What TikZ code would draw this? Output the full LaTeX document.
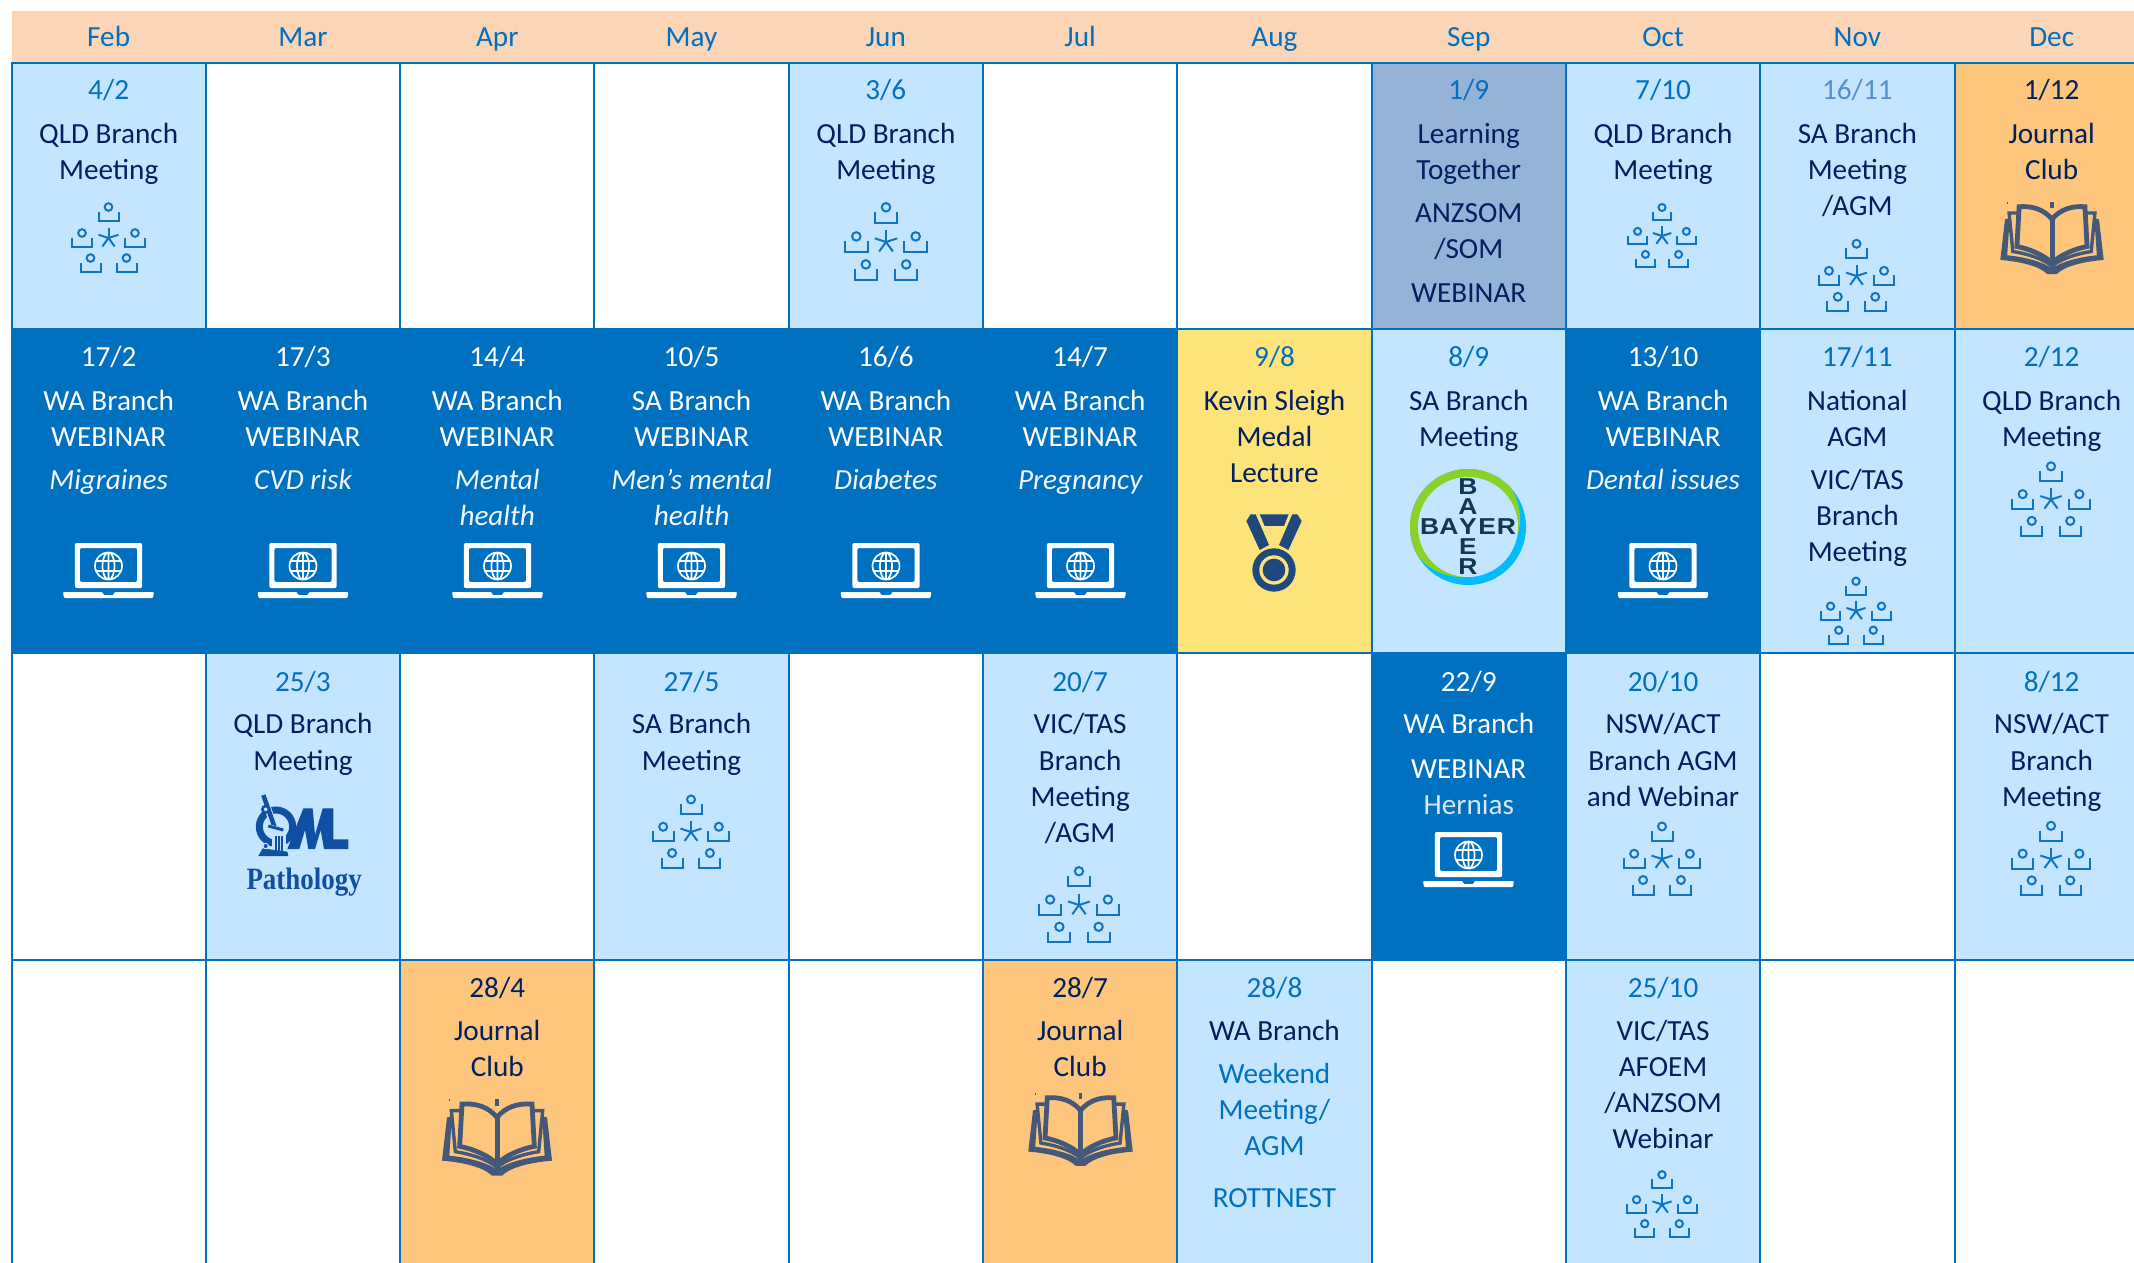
\documentclass[tikz,border=0pt]{standalone}
\usepackage{fontspec}
\setmainfont{Carlito}
\newfontfamily\lsb{Liberation Sans}
\newfontfamily\lsf{Liberation Serif}
\definecolor{hdr}{HTML}{FBD5B5}
\definecolor{blu}{HTML}{0070C0}
\definecolor{lite}{HTML}{C4E5FF}
\definecolor{navy}{HTML}{002060}
\definecolor{orng}{HTML}{FEC67C}
\definecolor{yelw}{HTML}{FEE27A}
\definecolor{slate}{HTML}{95B3D7}
\definecolor{soft}{HTML}{558ED5}
\definecolor{icon}{HTML}{0F74C4}
\definecolor{bookc}{HTML}{44587A}
\definecolor{medalc}{HTML}{1F497D}
\definecolor{paleT}{HTML}{DCE6F2}
\definecolor{italT}{HTML}{F2F5FA}
\definecolor{logoc}{HTML}{0F50A5}
\definecolor{bayerT}{HTML}{10384F}
\definecolor{bgreen}{HTML}{89D329}
\definecolor{bcyan}{HTML}{00BCFF}
\tikzset{
  x=1pt,y=-1pt,
  lab/.style={anchor=base,inner sep=0pt,font=\fontsize{29.2}{36}\selectfont,text=navy},
  date/.style={lab,text=blu},
  wht/.style={lab,text=white},
  ital/.style={lab,text=italT,font=\fontsize{29.2}{36}\selectfont\itshape},
  gridcell/.style={draw=blu,line width=2pt},
}
\newcount\tc
\ExplSyntaxOn
\cs_set_eq:NN \fpeval \fp_eval:n
\ExplSyntaxOff
\newcommand{\cx}[1]{\fpeval{11.5+194.3*(#1+0.5)}}
\newcommand{\ev}[4]{\global\advance\tc by 1 \node[#3] (t\the\tc) at (\cx{#1},#2) {#4};}
\newcommand{\meet}[3]{%
  \begin{scope}[shift={(#1,#2)},scale=#3,draw=icon,line width=2pt]
    \foreach \a/\b in {0/-31,-26.5/-5,26.5/-5,-18/20,18/20}{
      \draw (\a,\b) circle (3.8);
      \draw (\a-10,\b+4.5) -- (\a-10,\b+14) -- (\a+10,\b+14) -- (\a+10,\b+4.5);
    }
    \foreach \t in {270,342,54,126,198}{\draw (0,0) -- (\t:10.5);}
  \end{scope}}
\newcommand{\laptop}[2]{%
  \begin{scope}[shift={(#1,#2)}]
    \fill[white,even odd rule,rounded corners=2] (-33.7,-23) rectangle (33.7,22) (-28.7,-18) rectangle (28.7,16);
    \fill[white,rounded corners=1] (-45.5,26) -- (-6,26) -- (-5,29) -- (5,29) -- (6,26) -- (45.5,26) -- (44.5,32) -- (-44.5,32) -- cycle;
    \draw[white,line width=1.7pt] (0,0) circle (13.5) (0,0) ellipse (6 and 13.5) (0,-13.5) -- (0,13.5) (-12.5,-5) -- (12.5,-5) (-12.5,5) -- (12.5,5);
  \end{scope}}
\newcommand{\book}[3]{%
  \begin{scope}[shift={(#1,#2)},scale=#3/3]
    \fill[bookc,line join=round] (-150,55) -- (-165,185) .. controls (-100,190) and (-40,205) .. (-15,230) -- (15,230) .. controls (40,205) and (100,190) .. (165,185) -- (150,55) -- (135,52) -- (143,170) .. controls (90,175) and (30,190) .. (0,212) .. controls (-30,190) and (-90,175) .. (-143,170) -- (-135,52) -- cycle;
    \draw[bookc,line width=4.8pt] (0,55) .. controls (-25,25) and (-60,12) .. (-105,15) -- (-112,142) .. controls (-70,150) and (-25,170) .. (0,195);
    \draw[bookc,line width=4.8pt] (0,55) .. controls (25,25) and (60,12) .. (105,15) -- (112,142) .. controls (70,150) and (25,170) .. (0,195);
    \draw[bookc,line width=5pt] (0,50) -- (0,215);
    \draw[bookc,line width=3.4pt] (-105,35) -- (-137,35) -- (-125,158) .. controls (-80,165) and (-30,180) .. (0,205) .. controls (30,180) and (80,165) .. (125,158) -- (137,35) -- (105,35);
    \draw[bookc,line width=3.5pt] (0,0) -- (0,20);
    \draw[bookc,line width=1pt] (-143,0) -- (-143,5);
  \end{scope}}
\begin{document}
\begin{tikzpicture}
\useasboundingbox (0,0) rectangle (2134,1262);
\clip (0,0) rectangle (2134,1262);
\fill[white] (0,0) rectangle (2134,1262);
\fill[hdr] (12,11) rectangle (2134,62);
% cells: column index, fill
\foreach \r/\top/\bot/\cols in {
  1/63/329/{0/lite,1/white,2/white,3/white,4/lite,5/white,6/white,7/slate,8/lite,9/lite,10/orng},
  2/329/653/{0/blu,1/blu,2/blu,3/blu,4/blu,5/blu,6/yelw,7/lite,8/blu,9/lite,10/lite},
  3/653/960/{0/white,1/lite,2/white,3/lite,4/white,5/lite,6/white,7/blu,8/lite,9/white,10/lite},
  4/960/1275/{0/white,1/white,2/orng,3/white,4/white,5/orng,6/lite,7/white,8/lite,9/white,10/white}}{
  \foreach \c/\f in \cols {
    \filldraw[gridcell,fill=\f] ({11.5+194.3*\c},\top) rectangle ({11.5+194.3*(\c+1)},\bot);
  }
}
% header
\foreach \c/\m in {0/Feb,1/Mar,2/Apr,3/May,4/Jun,5/Jul,6/Aug,7/Sep,8/Oct,9/Nov,10/Dec}{
  \node[date] (h\c) at ({11.5+194.3*(\c+0.5)},46) {\m};
}
% row 1
\ev{0}{99.5}{date}{4/2}\ev{0}{143}{lab}{QLD Branch}\ev{0}{179}{lab}{Meeting}
\ev{4}{99.5}{date}{3/6}\ev{4}{143}{lab}{QLD Branch}\ev{4}{179}{lab}{Meeting}
\ev{7}{99.5}{date}{1/9}\ev{7}{143}{lab}{Learning}\ev{7}{179}{lab}{Together}\ev{7}{222}{lab}{ANZSOM}\ev{7}{258}{lab}{/SOM}\ev{7}{302}{lab}{WEBINAR}
\ev{8}{99.5}{date}{7/10}\ev{8}{143}{lab}{QLD Branch}\ev{8}{179}{lab}{Meeting}
\ev{9}{99.5}{date,text=soft}{16/11}\ev{9}{143}{lab}{SA Branch}\ev{9}{179}{lab}{Meeting}\ev{9}{215}{lab}{/AGM}
\ev{10}{99.5}{lab}{1/12}\ev{10}{143}{lab}{Journal}\ev{10}{179}{lab}{Club}
% row 2
\foreach \c/\d/\b/\i in {0/17\slash 2/WA/Migraines,1/17\slash 3/WA/CVD risk,2/14\slash 4/WA/Mental,3/10\slash 5/SA/Men’s mental,4/16\slash 6/WA/Diabetes,5/14\slash 7/WA/Pregnancy,8/13\slash 10/WA/Dental issues}{
  \node[wht] (d\c) at ({11.5+194.3*(\c+0.5)},366) {\d};
  \node[wht] (b\c) at ({11.5+194.3*(\c+0.5)},410) {\b{} Branch};
  \node[wht] (w\c) at ({11.5+194.3*(\c+0.5)},446) {WEBINAR};
  \node[ital] (i\c) at ({11.5+194.3*(\c+0.5)},489) {\i};
}
\ev{2}{525}{ital}{health}\ev{3}{525}{ital}{health}
\ev{6}{366}{date}{9/8}\ev{6}{410}{lab}{Kevin Sleigh}\ev{6}{446}{lab}{Medal}\ev{6}{482}{lab}{Lecture}
\ev{7}{366}{date}{8/9}\ev{7}{410}{lab}{SA Branch}\ev{7}{446}{lab}{Meeting}
\ev{9}{366}{date}{17/11}\ev{9}{410}{lab}{National}\ev{9}{446}{lab}{AGM}\ev{9}{489}{lab}{VIC/TAS}\ev{9}{525}{lab}{Branch}\ev{9}{561}{lab}{Meeting}
\ev{10}{366}{date}{2/12}\ev{10}{410}{lab}{QLD Branch}\ev{10}{446}{lab}{Meeting}
% row 3
\ev{1}{691}{date}{25/3}\ev{1}{733.5}{lab}{QLD Branch}\ev{1}{770}{lab}{Meeting}
\ev{3}{691}{date}{27/5}\ev{3}{733.5}{lab}{SA Branch}\ev{3}{770}{lab}{Meeting}
\ev{5}{691}{date}{20/7}\ev{5}{733.5}{lab}{VIC/TAS}\ev{5}{770}{lab}{Branch}\ev{5}{806}{lab}{Meeting}\ev{5}{842}{lab}{/AGM}
\ev{7}{691}{wht}{22/9}\ev{7}{733.5}{wht}{WA Branch}\ev{7}{778}{wht}{WEBINAR}\ev{7}{814}{lab,text=paleT}{Hernias}
\ev{8}{691}{date}{20/10}\ev{8}{733.5}{lab}{NSW/ACT}\ev{8}{770}{lab}{Branch AGM}\ev{8}{806}{lab}{and Webinar}
\ev{10}{691}{date}{8/12}\ev{10}{733.5}{lab}{NSW/ACT}\ev{10}{770}{lab}{Branch}\ev{10}{806}{lab}{Meeting}
% row 4
\ev{2}{997}{lab}{28/4}\ev{2}{1040}{lab}{Journal}\ev{2}{1076}{lab}{Club}
\ev{5}{997}{lab}{28/7}\ev{5}{1040}{lab}{Journal}\ev{5}{1076}{lab}{Club}
\ev{6}{997}{date}{28/8}\ev{6}{1040}{lab}{WA Branch}\ev{6}{1083}{date}{Weekend}\ev{6}{1119}{date}{Meeting/}\ev{6}{1155}{date}{AGM}\ev{6}{1207}{date}{ROTTNEST}
\ev{8}{997}{date}{25/10}\ev{8}{1040}{lab}{VIC/TAS}\ev{8}{1076}{lab}{AFOEM}\ev{8}{1112}{lab}{/ANZSOM}\ev{8}{1148}{lab}{Webinar}
% meeting icons
\meet{108.5}{238}{1}\meet{886}{242}{1.12}\meet{1662}{236}{.92}\meet{1856.5}{276}{1.04}
\meet{2051}{499.5}{1.07}\meet{1856}{611}{.96}\meet{691}{832}{1.05}\meet{1079}{905}{1.09}
\meet{1662}{859}{1.05}\meet{2051}{859}{1.07}\meet{1662}{1204.5}{.96}
% laptops
\foreach \x in {108.5,303,497.5,691.5,886,1080.5,1663}{\laptop{\x}{566}}
\laptop{1468.5}{855}
% books
\book{2052}{202}{.94}\book{497}{1099}{1}\book{1080.5}{1093}{.95}
% medal
\begin{scope}[shift={(1274,514.3)},scale=1/3]
  \fill[medalc] (-70,0) -- (-83,20) -- (-43,107) -- (-15,92) -- (-55,0) -- cycle;
  \fill[medalc] (70,0) -- (83,20) -- (43,107) -- (15,92) -- (55,0) -- cycle;
  \fill[medalc] (-43,0) -- (44,0) -- (30,35) -- (-28,35) -- cycle;
  \fill[medalc] (0,167) circle (65);
  \fill[yelw] (0,167) circle (44);
  \fill[medalc] (0,167) circle (34);
\end{scope}
% Bayer
\begin{scope}[shift={(1468,527)}]
  \begin{scope}
    \clip (0,0) circle (58);
    \fill[bcyan] (-60,-60) rectangle (60,60);
    \fill[bgreen] (-6,-8) circle (58);
    \fill[lite] (0,0) circle (50);
  \end{scope}
  \foreach \k/\l in {-2/B,-1/A,0/Y,1/E,2/R}{
    \node[inner sep=0pt,text=bayerT,font=\lsb\bfseries\fontsize{23}{23}\selectfont] (bh\k) at (\k*19.2,0) {\scalebox{1.15}[1]{\l}};
  }
  \foreach \k/\l in {-2/B,-1/A,1/E,2/R}{
    \node[inner sep=0pt,text=bayerT,font=\lsb\bfseries\fontsize{23}{23}\selectfont] (bv\k) at (0,\k*20) {\scalebox{1.15}[1]{\l}};
  }
\end{scope}
% OML Pathology logo
\node[anchor=base,inner sep=0pt,text=logoc,font=\lsf\bfseries\fontsize{31}{31}\selectfont] (path) at (304.2,889) {\scalebox{.87}[1]{Pathology}};
\begin{scope}[shift={(200,650)},scale=1/3]
  \draw[logoc,line width=7pt] (228,530) circle (50);
  \fill[logoc] (262,597) -- (310,475) -- (338,475) -- (345,555) -- (368,475) -- (400,475) -- (400,568) -- (445,568) -- (445,597) -- (372,597) -- (362,540) -- (345,597) -- (325,597) -- (315,540) -- (298,597) -- cycle;
  \draw[lite,line width=7pt] (190,440) -- (225,535);
  \draw[logoc,line width=4.5pt] (190,435) -- (225,535);
  \filldraw[draw=logoc,fill=lite,line width=2.5pt] (197,478) circle (10);
  \draw[lite,line width=6pt] (200,530) -- (255,545);
  \draw[logoc,line width=3pt] (205,528) -- (250,540);
  \fill[lite] (215,555) rectangle (258,610);
  \fill[logoc] (225,558) rectangle (250,605);
  \draw[lite,line width=1.2pt] (233,558) -- (233,605) (242,558) -- (242,605);
  \fill[logoc] (175,618) -- (188,595) -- (262,605) -- (265,618) -- cycle;
  \filldraw[draw=lite,fill=logoc,line width=1pt] (197,588) circle (8);
\end{scope}
\end{tikzpicture}
\end{document}
